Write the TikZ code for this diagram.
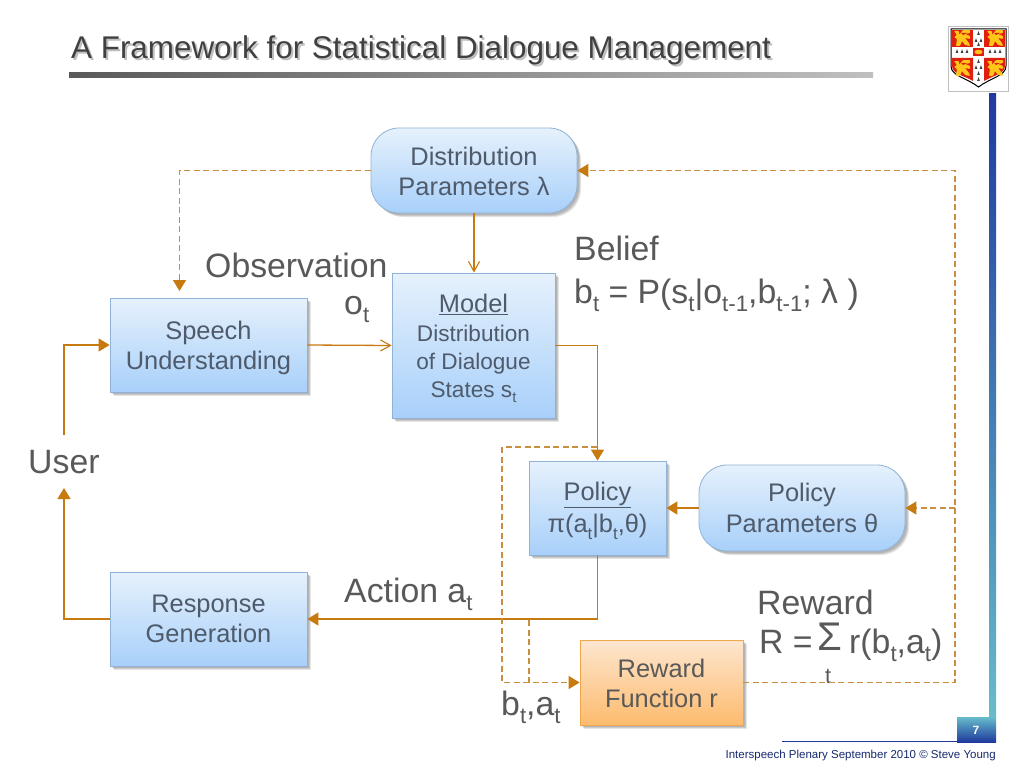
\documentclass[tikz,border=0pt]{standalone}
\usepackage{fontspec}
\setmainfont{Liberation Sans}
\usetikzlibrary{arrows.meta,shadows}
\definecolor{flow}{HTML}{C77A10}
\definecolor{dashc}{HTML}{C98F3F}
\definecolor{boxtxt}{HTML}{4F5B6B}
\definecolor{labtxt}{HTML}{595959}
\definecolor{blueedge}{HTML}{8FB3D6}
\definecolor{bluetop}{HTML}{E6F1FC}
\definecolor{bluebot}{HTML}{A8D0FA}
\definecolor{orangeedge}{HTML}{F0A64C}
\definecolor{orangetop}{HTML}{FDE6CF}
\definecolor{orangebot}{HTML}{FDBB6E}
\definecolor{barblue}{HTML}{1F3A9E}
\definecolor{barteal}{HTML}{66BCCB}
\definecolor{crestred}{HTML}{E0200F}
\definecolor{crestgold}{HTML}{FFC61A}
\newcommand{\sbs}[1]{\raisebox{-.26em}{\scalebox{.66}{#1}}}
\newcommand{\fs}[1]{\fontsize{#1}{#1}\selectfont}
\tikzset{
  softshadow/.style={
    general shadow={fill=black,opacity=.10,shadow xshift=2pt,shadow yshift=-2pt},
    general shadow={fill=black,opacity=.12,shadow xshift=3pt,shadow yshift=-3pt},
    general shadow={fill=black,opacity=.10,shadow xshift=4pt,shadow yshift=-4pt}},
  bluebox/.style={softshadow,draw=blueedge,line width=.8pt,top color=bluetop,bottom color=bluebot,
    text=boxtxt,font=\fs{25.4},align=center,inner sep=0pt},
  sqbox/.style={bluebox},
  rndbox/.style={bluebox,rounded corners=28pt},
  rewbox/.style={softshadow,draw=orangeedge,line width=.8pt,top color=orangetop,bottom color=orangebot,
    text=labtxt,font=\fs{25.4},align=center,inner sep=0pt},
  lab/.style={text=labtxt,font=\fs{33.8},inner sep=0pt,anchor=base west},
  flowline/.style={draw=flow,line width=1.3pt},
  dashline/.style={draw=dashc,line width=1.3pt,dash pattern=on 6pt off 3.5pt},
  solidtip/.style={-{Triangle[width=13pt,length=11pt,fill=flow,color=flow]}},
  opentip/.style={-{Straight Barb[width=11pt,length=10pt,color=flow,line width=1.1pt]}},
}
\begin{document}
\begin{tikzpicture}[x=1pt,y=-1pt]
\useasboundingbox (0,0) rectangle (1024,768);
\fill[white] (0,0) rectangle (1024,768);
% title
\node[anchor=base west,inner sep=0pt,text=black!25,font=\fs{31.4}] (titleshadow) at (73,60) {A Framework for Statistical Dialogue Management};
\node[anchor=base west,inner sep=0pt,text=black!75,font=\fs{31.4}] (title) at (71,59) {A Framework for Statistical Dialogue Management};
\shade[left color=black!65,right color=black!25] (69,72) rectangle (873,77);
% right bar and footer
\shade[top color=barblue,bottom color=barteal] (989,93) rectangle (996,717);
\shade[top color=barteal,bottom color=barblue] (957,717) rectangle (996,742);
\fill[barblue] (782,740.5) rectangle (957,741.5);
\node[font=\bfseries\fs{12},text=white,inner sep=0pt] (pageno) at (976,730) {7};
\node[anchor=base east,inner sep=0pt,font=\fs{11.5},text=barblue!70!black] (footer) at (996,758) {Interspeech Plenary September 2010 © Steve Young};
% crest
\draw[black!25,fill=white,line width=.8pt] (948,26) rectangle (1008,91);
\path[fill=white,draw=black,line width=1pt] (951,29) -- (1006,29) -- (1006,66) .. controls (1006,76) and (990,78) .. (978.5,87) .. controls (967,78) and (951,76) .. (951,66) -- cycle;
\fill[crestred] (952,30) rectangle (973,47);
\fill[crestred] (984,30) rectangle (1005,47);
\fill[crestred] (952,58) -- (973,58) -- (973,81) .. controls (965,76) and (952,74) .. (952,66) -- cycle;
\fill[crestred] (984,58) -- (1005,58) -- (1005,66) .. controls (1005,74) and (992,76) .. (984,81) -- cycle;
\foreach \cx/\cy in {962/38,995/38,962/68,995/68}{
  \fill[crestgold,rounded corners=.8pt] (\cx-8,\cy-7) -- (\cx-3,\cy-7) -- (\cx-3,\cy-3) -- (\cx+1,\cy-8) -- (\cx+8,\cy-8) -- (\cx+8,\cy-5) -- (\cx+3,\cy-4) -- (\cx+8,\cy-2) -- (\cx+8,\cy+1) -- (\cx+3,\cy) -- (\cx+7,\cy+5) -- (\cx+8,\cy+8) -- (\cx+3,\cy+7) -- (\cx,\cy+3) -- (\cx-2,\cy+8) -- (\cx-6,\cy+8) -- (\cx-5,\cy+1) -- (\cx-8,\cy-1) -- (\cx-5,\cy-3) -- cycle;
  \fill[crestred] (\cx-1,\cy-5) -- (\cx+5,\cy-5) -- (\cx+1,\cy-3) -- cycle;
}
\fill[crestred] (973,48) rectangle (984,56);
\fill[crestgold] (978.5,52) ellipse [x radius=4pt,y radius=2.2pt];
\foreach \cx/\cy in {978.5/33,976/40,981/40,978.5/44,978.5/61,976/67,981/67,978.5/73,978.5/79,957/51,962/51,967/51,990/51,995/51,1000/51}{
  \fill[black!75] (\cx,\cy-1.8) -- (\cx+1.3,\cy+1.8) -- (\cx-1.3,\cy+1.8) -- cycle;
}
% boxes
\node[rndbox,minimum width=206pt,minimum height=85pt] (dist) at (474,170.5) {\rule{0pt}{20pt}Distribution\\[5pt]Parameters λ};
\node[sqbox,minimum width=163pt,minimum height=145pt] (model) at (473.5,345.5) {\rule{0pt}{25pt}\underline{Model}\\[3pt]{\fs{22.6}Distribution}\\[2.5pt]{\fs{22.6}of Dialogue}\\[2.5pt]{\fs{22.6}States s\sbs{t}}};
\node[sqbox,minimum width=197pt,minimum height=94pt] (speech) at (208.5,345) {\rule{0pt}{24pt}Speech\\[5pt]Understanding};
\node[sqbox,minimum width=137pt,minimum height=94pt] (policy) at (597.5,508) {\rule{0pt}{24pt}\underline{Policy}\\[5pt]π(a\sbs{t}|b\sbs{t},θ)};
\node[rndbox,minimum width=206pt,minimum height=86pt] (pparams) at (802,508) {Policy\\[5pt]Parameters θ};
\node[sqbox,minimum width=197pt,minimum height=94pt] (response) at (208.5,619) {Response\\[5pt]Generation};
\node[rewbox,minimum width=163pt,minimum height=85pt] (reward) at (661.5,682.5) {\rule{0pt}{20pt}Reward\\[5pt]Function r};
% labels
\node[lab] (lobs) at (205,277) {Observation};
\node[lab] (lot) at (344,314) {o\sbs{t}};
\node[lab] (lbelief) at (574,260) {Belief};
\node[lab] (lb) at (574,303) {b\sbs{t} = P(s\sbs{t}|o\sbs{t-1},b\sbs{t-1}; λ )};
\node[lab] (user) at (28,473) {User};
\node[lab] (laction) at (344,602) {Action a\sbs{t}};
\node[lab] (lreward) at (757,614) {Reward};
\node[lab] (lr) at (759,653) {R =};
\node[lab,font=\fs{40}] (lsum) at (817,650) {Σ};
\node[lab] (lrf) at (849,653) {r(b\sbs{t},a\sbs{t})};
\node[lab,font=\fs{22}] (lsumt) at (825,683) {t};
\node[lab] (lba) at (501,715) {b\sbs{t},a\sbs{t}};
% free ends and bends
\coordinate (dashstop) at (179.5,291);
\coordinate (pdash) at (597,447);
\coordinate (ldash) at (502,447);
\coordinate (ldashb) at (502,682.5);
\coordinate (rdash) at (955,682.5);
\coordinate (rdashm) at (955,508);
\coordinate (rdasht) at (955,170.5);
\coordinate (mdash) at (529,620);
\coordinate (mdashb) at (529,682.5);
\coordinate (useru) at (64,435);
\coordinate (userd) at (64,488);
% solid connectors
\draw[flowline,opentip] (dist.south) -- (dist.south |- model.north);
\draw[flowline,opentip] (speech.east) -- (model.west);
\draw[flowline,solidtip] (model.east) -| (policy.north);
\draw[flowline,solidtip] (pparams.west) -- (policy.east);
\draw[flowline,solidtip] (policy.south) |- (response.east);
\draw[flowline,solidtip] (response.west) -| (userd);
\draw[flowline,solidtip] (useru) |- (speech.west);
% dashed connectors
\draw[dashline,solidtip] (dist.west) -| (dashstop);
\draw[dashline,solidtip] (pdash) -- (ldash) -- (ldashb) -- (reward.west);
\draw[dashline] (mdash) -- (mdashb);
\draw[dashline,solidtip] (reward.east) -- (rdash) -- (rdasht) -- (dist.east);
\draw[dashline,solidtip] (rdashm) -- (pparams.east);
\end{tikzpicture}
\end{document}
